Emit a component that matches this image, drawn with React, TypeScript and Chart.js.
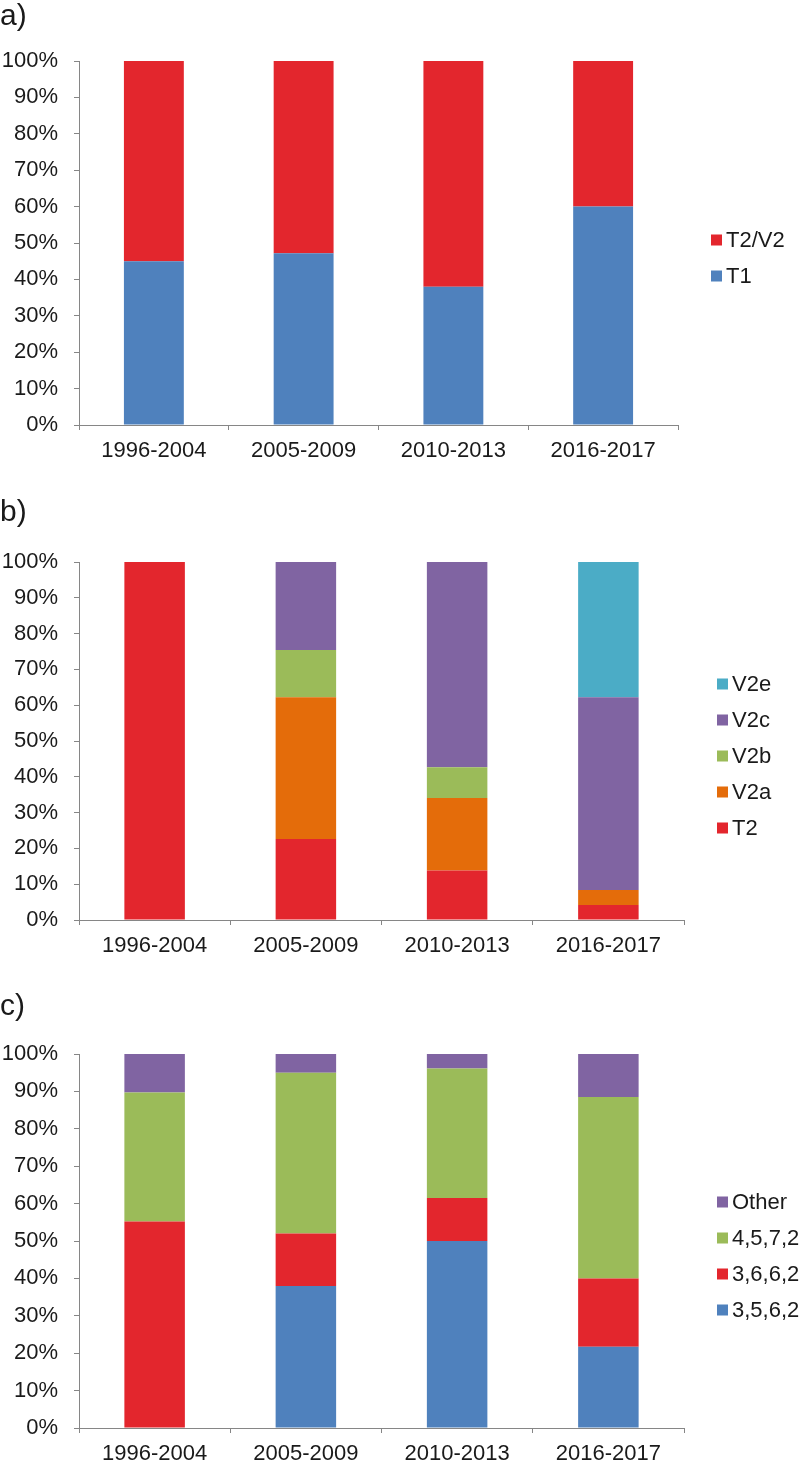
import React, { useEffect, useRef } from 'react';
import { Chart, registerables } from 'chart.js';

Chart.register(...registerables);

// ---------- data ----------
const categories = ['1996-2004', '2005-2009', '2010-2013', '2016-2017'];
const yTickValues = [0, 10, 20, 30, 40, 50, 60, 70, 80, 90, 100];

// panel a
const aT1 = [45, 47.2, 38, 60];
const aT2V2 = [55, 52.8, 62, 40];

// panel b
const bT2 = [100, 22.6, 13.8, 4.2];
const bV2a = [0, 39.6, 20.3, 4.2];
const bV2b = [0, 13.2, 8.6, 0];
const bV2c = [0, 24.6, 57.3, 53.8];
const bV2e = [0, 0, 0, 37.8];

// panel c
const c3562 = [0, 38, 50, 21.7];
const c3662 = [55.2, 14, 11.5, 18.3];
const c4572 = [34.5, 43, 34.6, 48.5];
const cOther = [10.3, 5, 3.9, 11.5];

// ---------- style ----------
const FONT = '"Liberation Sans", Arial, sans-serif';
const TEXT = '#1a1a1a';
const AXIS = '#868686';
const BLUE = '#4F81BD';
const RED = '#E3262D';
const ORANGE = '#E46C0A';
const GREEN = '#9BBB59';
const PURPLE = '#8064A2';
const TEAL = '#4BACC6';

type Series = { label: string; data: number[]; color: string };

const extrasPlugin = {
  id: 'panelExtras',
  afterDraw(chart: any, _args: any, opts: any) {
    const ctx = chart.ctx;
    const area = chart.chartArea;
    ctx.save();
    // panel label
    ctx.fillStyle = TEXT;
    ctx.font = `30px ${FONT}`;
    ctx.textAlign = 'left';
    ctx.textBaseline = 'alphabetic';
    ctx.fillText(opts.label, 0, opts.labelBaseline);
    // legend (reversed order, like the stacked-bar legend)
    const ds = chart.data.datasets.slice().reverse();
    const spacing = 36;
    const mid = (area.top + area.bottom) / 2 + 15;
    const startY = mid - ((ds.length - 1) * spacing) / 2;
    const boxX = area.right + 33;
    ctx.font = `22px ${FONT}`;
    ctx.textBaseline = 'middle';
    ds.forEach((d: any, i: number) => {
      const y = startY + i * spacing;
      ctx.fillStyle = d.backgroundColor;
      ctx.fillRect(boxX, y - 5.5, 11, 11);
      ctx.fillStyle = TEXT;
      ctx.fillText(d.label, boxX + 15, y + 1);
    });
    ctx.restore();
  },
};

function Panel(props: {
  top: number;
  height: number;
  label: string;
  labelBaseline: number;
  plotTop: number;
  plotBottom: number;
  plotRight: number;
  series: Series[];
}) {
  const ref = useRef<HTMLCanvasElement>(null);
  useEffect(() => {
    const { height, label, labelBaseline, plotTop, plotBottom, plotRight, series } = props;
    const chart = new Chart(ref.current!, {
      type: 'bar',
      data: {
        labels: categories,
        datasets: series.map((s) => ({
          label: s.label,
          data: s.data,
          backgroundColor: s.color,
          borderWidth: 0,
          barPercentage: 0.4,
          categoryPercentage: 1,
        })),
      },
      options: {
        responsive: false,
        animation: false,
        devicePixelRatio: 1,
        layout: {
          padding: {
            top: plotTop,
            bottom: height - plotBottom - 36,
            left: 0,
            right: 800 - plotRight,
          },
        },
        plugins: {
          legend: { display: false },
          tooltip: { enabled: false },
          panelExtras: { label, labelBaseline },
        } as any,
        scales: {
          x: {
            stacked: true,
            grid: { offset: true, drawOnChartArea: false, tickLength: 5, color: AXIS },
            border: { color: AXIS },
            ticks: { font: { family: FONT, size: 22 }, color: TEXT, padding: 8, maxRotation: 0 },
            afterFit: (s: any) => {
              s.height = 36;
            },
          },
          y: {
            stacked: true,
            min: yTickValues[0],
            max: yTickValues[yTickValues.length - 1],
            ticks: {
              stepSize: 10,
              callback: (v: any) => v + '%',
              font: { family: FONT, size: 22 },
              color: TEXT,
              padding: 16,
            },
            grid: { drawOnChartArea: false, tickLength: 5, color: AXIS },
            border: { color: AXIS },
            afterFit: (s: any) => {
              s.width = 79;
            },
          },
        },
      } as any,
      plugins: [extrasPlugin],
    });
    return () => chart.destroy();
  }, []);
  return (
    <canvas
      ref={ref}
      width={800}
      height={props.height}
      style={{ position: 'absolute', left: 0, top: props.top, display: 'block' }}
    />
  );
}

export default function App() {
  return (
    <div
      style={{
        position: 'absolute',
        left: 0,
        top: 0,
        width: 800,
        height: 1465,
        background: '#ffffff',
        overflow: 'hidden',
      }}
    >
      <Panel
        top={0}
        height={480}
        label="a)"
        labelBaseline={25}
        plotTop={61}
        plotBottom={425}
        plotRight={678}
        series={[
          { label: 'T1', data: aT1, color: BLUE },
          { label: 'T2/V2', data: aT2V2, color: RED },
        ]}
      />
      <Panel
        top={480}
        height={480}
        label="b)"
        labelBaseline={41}
        plotTop={82}
        plotBottom={440}
        plotRight={684}
        series={[
          { label: 'T2', data: bT2, color: RED },
          { label: 'V2a', data: bV2a, color: ORANGE },
          { label: 'V2b', data: bV2b, color: GREEN },
          { label: 'V2c', data: bV2c, color: PURPLE },
          { label: 'V2e', data: bV2e, color: TEAL },
        ]}
      />
      <Panel
        top={960}
        height={505}
        label="c)"
        labelBaseline={55}
        plotTop={94}
        plotBottom={468}
        plotRight={684}
        series={[
          { label: '3,5,6,2', data: c3562, color: BLUE },
          { label: '3,6,6,2', data: c3662, color: RED },
          { label: '4,5,7,2', data: c4572, color: GREEN },
          { label: 'Other', data: cOther, color: PURPLE },
        ]}
      />
    </div>
  );
}
